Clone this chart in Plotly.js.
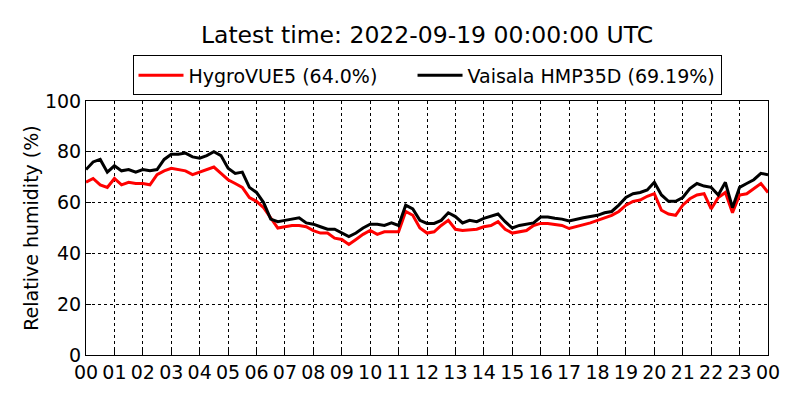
<!DOCTYPE html>
<html>
<head>
<meta charset="utf-8">
<script src="https://cdn.plot.ly/plotly-3.0.1.min.js"></script>
<style>
  html, body { margin: 0; padding: 0; background: #fff; }
  #chart { width: 800px; height: 400px; }
</style>
</head>
<body>
<div id="chart"></div>
<script>
// Muestras cada 15 minutos, 00:00 -> 24:00 (97 puntos)
const pasoHoras = 0.25;

const hygrovue = [
  68, 69.5, 67, 66, 69.5, 67, 68, 67.5, 67.5, 67, 71, 72.5,
  73.5, 73, 72.5, 71, 72, 73, 74, 71.5, 69, 67.5, 66, 62,
  60.5, 58, 54, 50, 50.5, 51, 51, 50.5, 49, 48, 48, 46,
  45.5, 43.5, 45.5, 47.5, 49, 47.5, 48.5, 48.5, 48.5, 56.5, 55, 50,
  48, 48.5, 51, 53, 49.5, 49, 49.2, 49.5, 50.5, 51, 52.5, 49.5,
  48, 48.5, 49, 51, 51.8, 51.8, 51.5, 51, 49.8, 50.5, 51.2, 52,
  53, 54, 55, 56.5, 59, 60.5, 61, 62.5, 63.5, 57, 55.5, 55,
  59, 61.5, 63, 63.5, 57.5, 62, 64, 56, 63, 63.5, 65.5, 67.5,
  64
];

const vaisala = [
  73, 76, 77, 72, 74.5, 72.5, 73, 72, 73, 72.5, 73, 77,
  79, 79, 79.5, 78, 77.5, 78.5, 80, 78.5, 73.5, 71.5, 72, 66,
  64, 60, 53.5, 52.5, 53, 53.5, 54, 52, 51.5, 50.5, 49.5, 49.5,
  48, 46.6, 48, 50, 51.5, 51.5, 51, 52, 51, 59, 57.5, 53,
  51.8, 51.8, 53, 56, 54.5, 52, 53, 52.5, 53.8, 54.5, 55.5, 52.5,
  50, 51, 51.5, 52, 54.3, 54.3, 53.8, 53.5, 52.8, 53.5, 54, 54.5,
  55, 56, 56.5, 59, 62, 63.5, 64, 65, 68, 63, 60.5, 60.5,
  62, 65.5, 67.5, 66.5, 66, 63, 68, 58, 66, 67.5, 69, 71.5,
  71
];

const etiquetasHora = ['00','01','02','03','04','05','06','07','08','09','10','11',
  '12','13','14','15','16','17','18','19','20','21','22','23','00'];
const valoresHora = etiquetasHora.map((_, i) => i);

const horas = hygrovue.map((_, i) => i * pasoHoras);

const fuente = 'DejaVu Sans, sans-serif';
// espacio extra entre entradas de la leyenda
const hueco = '\u00a0\u00a0\u00a0\u00a0\u00a0';

const trazas = [
  {
    x: horas,
    y: hygrovue,
    type: 'scatter',
    mode: 'lines',
    name: 'HygroVUE5 (64.0%)' + hueco,
    line: { color: '#ff0000', width: 3 }
  },
  {
    x: horas,
    y: vaisala,
    type: 'scatter',
    mode: 'lines',
    name: 'Vaisala HMP35D (69.19%)',
    line: { color: '#000000', width: 3 }
  }
];

const ejeComun = {
  showline: true,
  mirror: true,
  linecolor: '#000',
  linewidth: 1,
  ticks: 'inside',
  ticklen: 5,
  tickcolor: '#000',
  showgrid: true,
  gridcolor: '#000',
  griddash: 'dot',
  gridwidth: 1,
  zeroline: false,
  tickfont: { family: fuente, size: 19, color: '#000' }
};

const layout = {
  width: 800,
  height: 400,
  paper_bgcolor: '#fff',
  plot_bgcolor: '#fff',
  font: { family: fuente, color: '#000' },
  margin: { l: 86, r: 32, t: 101, b: 45 },
  title: {
    text: 'Latest time: 2022-09-19 00:00:00 UTC',
    font: { family: fuente, size: 23.5, color: '#000' },
    xref: 'paper',
    x: 0.5,
    xanchor: 'center',
    y: 0.913,
    yanchor: 'middle'
  },
  showlegend: true,
  legend: {
    orientation: 'h',
    x: 0.5,
    xanchor: 'center',
    y: 1.18,
    yanchor: 'top',
    bordercolor: '#000',
    borderwidth: 1,
    bgcolor: '#fff',
    itemwidth: 45,
    font: { family: fuente, size: 19, color: '#000' }
  },
  xaxis: Object.assign({}, ejeComun, {
    range: [0, 24],
    tickvals: valoresHora,
    ticktext: etiquetasHora
  }),
  yaxis: Object.assign({}, ejeComun, {
    range: [0, 100],
    tickvals: [0, 20, 40, 60, 80, 100],
    title: {
      text: 'Relative humidity (%)',
      font: { family: fuente, size: 19, color: '#000' },
      standoff: 1
    }
  })
};

Plotly.newPlot('chart', trazas, layout, { displayModeBar: false, staticPlot: true });
</script>
</body>
</html>
